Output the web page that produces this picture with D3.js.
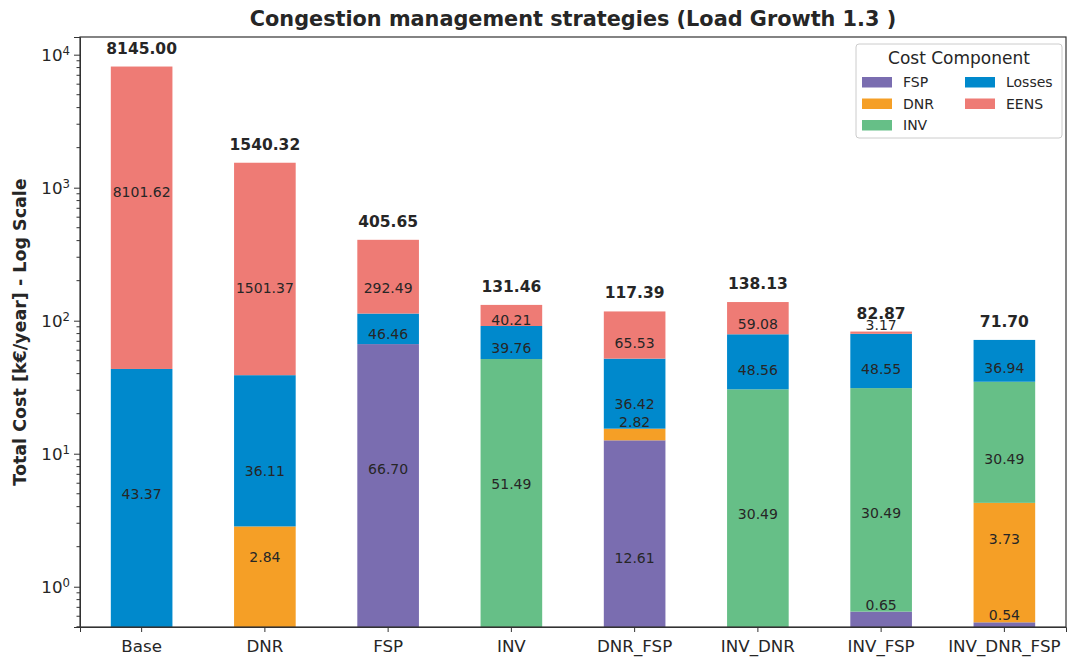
<!DOCTYPE html>
<html>
<head>
<meta charset="utf-8">
<script src="https://cdn.jsdelivr.net/npm/d3@7"></script>
<style>
  body { margin: 0; background: #fff; }
  text { font-family: "DejaVu Sans", sans-serif; fill: #262626; }
</style>
</head>
<body>
<script>
// Chart data.
const strategies = ["Base", "DNR", "FSP", "INV", "DNR_FSP", "INV_DNR", "INV_FSP", "INV_DNR_FSP"];
const components = ["FSP", "DNR", "INV", "Losses", "EENS"];
const fspCost    = [0, 0, 66.70, 0, 12.61, 0, 0.65, 0.54];
const dnrCost    = [0, 2.84, 0, 0, 2.82, 0, 0, 3.73];
const invCost    = [0, 0, 0, 51.49, 0, 30.49, 30.49, 30.49];
const lossesCost = [43.37, 36.11, 46.46, 39.76, 36.42, 48.56, 48.55, 36.94];
const eensCost   = [8101.62, 1501.37, 292.49, 40.21, 65.53, 59.08, 3.17, 0];
const totalCost  = [8145.00, 1540.32, 405.65, 131.46, 117.39, 138.13, 82.87, 71.70];
const yTicks = [1, 10, 100, 1000, 10000];
const yLimits = [0.498, 13580];

const colors = ["#7a6db0", "#f59f26", "#66bf87", "#0089cc", "#ee7b75"];

// Layout
const width = 1070, height = 659;
const margin = {top: 37, right: 4, bottom: 32, left: 80};
const innerW = width - margin.left - margin.right;
const innerH = height - margin.top - margin.bottom;

const svg = d3.select("body").append("svg")
    .attr("width", width)
    .attr("height", height);

const g = svg.append("g")
    .attr("transform", `translate(${margin.left},${margin.top})`);

// Scales
const x = d3.scaleBand()
    .domain(strategies)
    .range([0, innerW])
    .paddingInner(0.5)
    .paddingOuter(0.25);

const y = d3.scaleLog()
    .domain(yLimits)
    .range([innerH, 0]);

const color = d3.scaleOrdinal().domain(components).range(colors);

// Stack the components
const series = [fspCost, dnrCost, invCost, lossesCost, eensCost];
const rows = strategies.map((s, i) => {
  const r = {strategy: s};
  components.forEach((c, k) => r[c] = series[k][i]);
  return r;
});
const stacked = d3.stack().keys(components)(rows);

g.append("clipPath").attr("id", "plot-clip")
  .append("rect").attr("width", innerW).attr("height", innerH);

const yPx = v => v <= yLimits[0] ? innerH : y(v);

// Bars
const layers = g.append("g").attr("clip-path", "url(#plot-clip)")
  .selectAll("g.layer")
  .data(stacked)
  .join("g")
    .attr("class", "layer")
    .attr("fill", d => color(d.key));

layers.selectAll("rect")
  .data(d => d.filter(p => p[1] - p[0] > 0))
  .join("rect")
    .attr("x", p => x(p.data.strategy))
    .attr("width", x.bandwidth())
    .attr("y", p => yPx(p[1]))
    .attr("height", p => yPx(p[0]) - yPx(p[1]));

// Segment value labels
const labels = g.append("g");
stacked.forEach(layer => {
  layer.forEach(p => {
    const v = p[1] - p[0];
    if (v <= 0) return;
    const top = yPx(p[1]), bot = yPx(p[0]);
    const h = bot - top;
    let ly;
    if (h < 16) ly = top - 7;
    else if (layer.key === "DNR") ly = top + 0.3 * h;
    else ly = top + Math.min(0.62 * h + 2, 125);
    labels.append("text")
      .attr("x", x(p.data.strategy) + x.bandwidth() / 2)
      .attr("y", ly)
      .attr("text-anchor", "middle")
      .attr("dominant-baseline", "central")
      .style("font-size", "14px")
      .text(v.toFixed(2));
  });
});

// Totals above bars
g.append("g").selectAll("text")
  .data(strategies)
  .join("text")
    .attr("x", d => x(d) + x.bandwidth() / 2)
    .attr("y", (d, i) => y(totalCost[i]) - 18)
    .attr("text-anchor", "middle")
    .attr("dominant-baseline", "central")
    .style("font-size", "15.5px")
    .style("font-weight", "bold")
    .text((d, i) => totalCost[i].toFixed(2));

// Axes
const xAxis = g.append("g")
    .attr("transform", `translate(0,${innerH})`)
    .call(d3.axisBottom(x).tickSize(5).tickPadding(8));
xAxis.selectAll("text").style("font-size", "16.7px");

const minorTicks = [];
for (let e = -1; e <= 4; e++) {
  for (let m = 2; m <= 9; m++) {
    const v = m * Math.pow(10, e);
    if (v >= yLimits[0] && v <= yLimits[1]) minorTicks.push(v);
  }
}

const yAxis = g.append("g");
yAxis.call(d3.axisLeft(y).tickValues(yTicks).tickSize(6).tickFormat(""));
yAxis.selectAll(".tick")
  .append("text")
    .attr("x", -10)
    .attr("dy", "0.36em")
    .attr("text-anchor", "end")
    .style("font-size", "16.7px")
    .each(function(d) {
      const t = d3.select(this);
      t.append("tspan").text("10");
      t.append("tspan").attr("dy", "-0.55em").style("font-size", "11.7px")
        .text(Math.round(Math.log10(d)));
    });

g.append("g").selectAll("line")
  .data(minorTicks)
  .join("line")
    .attr("x1", -3.5).attr("x2", 0)
    .attr("y1", d => y(d)).attr("y2", d => y(d))
    .attr("stroke", "#333");

// Box spines
g.append("rect")
    .attr("width", innerW).attr("height", innerH)
    .attr("fill", "none").attr("stroke", "#333").attr("stroke-width", 1.2);

svg.selectAll(".domain").attr("stroke", "#333");
svg.selectAll(".tick line").attr("stroke", "#333");

// Title and y label
svg.append("text")
    .attr("x", margin.left + innerW / 2)
    .attr("y", 19)
    .attr("text-anchor", "middle")
    .attr("dominant-baseline", "central")
    .style("font-size", "20.8px")
    .style("font-weight", "bold")
    .text("Congestion management strategies (Load Growth 1.3 )");

svg.append("text")
    .attr("transform", `translate(20,${margin.top + innerH / 2}) rotate(-90)`)
    .attr("text-anchor", "middle")
    .attr("dominant-baseline", "central")
    .style("font-size", "17.5px")
    .style("font-weight", "bold")
    .text("Total Cost [k€/year] - Log Scale");

// Legend
const legend = svg.append("g").attr("transform", "translate(856,44)");
legend.append("rect")
    .attr("width", 206).attr("height", 94)
    .attr("rx", 3)
    .attr("fill", "#fff").attr("fill-opacity", 0.8)
    .attr("stroke", "#cccccc");
legend.append("text")
    .attr("x", 103).attr("y", 14)
    .attr("text-anchor", "middle")
    .attr("dominant-baseline", "central")
    .style("font-size", "17px")
    .text("Cost Component");

const item = legend.selectAll("g.item")
  .data(components)
  .join("g")
    .attr("class", "item")
    .attr("transform", (d, i) => `translate(${i < 3 ? 6 : 109},${38 + (i % 3) * 21.5})`);
item.append("rect")
    .attr("y", -5).attr("width", 30).attr("height", 10.5)
    .attr("fill", d => color(d));
item.append("text")
    .attr("x", 41).attr("y", 0)
    .attr("dominant-baseline", "central")
    .style("font-size", "14px")
    .text(d => d);
</script>
</body>
</html>
